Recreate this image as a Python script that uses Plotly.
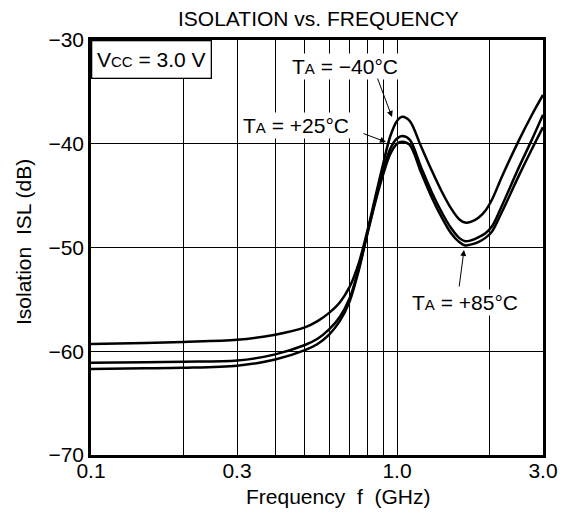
import plotly.graph_objects as go

# ---- data ----
freq_ghz = [0.1, 0.15, 0.2, 0.3, 0.4, 0.5, 0.55, 0.6, 0.65, 0.7, 0.75, 0.8, 0.85, 0.9, 0.95, 1.0, 1.04,
            1.1, 1.2, 1.3, 1.4, 1.5, 1.6, 1.67, 1.75, 1.85, 1.95, 2.05, 2.2, 2.5, 2.75, 3.0]
isl_m40 = [-59.3, -59.2, -59.1, -58.9, -58.4, -57.7, -57.1, -56.3, -55.3, -53.8, -51.5, -48.4, -45.1,
           -42.0, -39.3, -37.8, -37.4, -37.8, -40.3, -42.6, -44.6, -46.2, -47.3, -47.6, -47.5,
           -47.1, -46.4, -45.3, -43.2, -39.7, -37.3, -35.3]
isl_p25 = [-61.1, -61.05, -61.0, -60.9, -60.3, -59.4, -58.8, -57.9, -56.7, -54.9, -52.0, -48.6, -45.4,
           -42.6, -40.5, -39.5, -39.25, -39.6, -42.3, -44.7, -46.6, -48.1, -49.1, -49.4, -49.3,
           -49.0, -48.6, -47.9, -46.0, -42.3, -39.7, -37.2]
isl_p85 = [-61.7, -61.65, -61.6, -61.4, -60.8, -59.9, -59.3, -58.4, -57.1, -55.2, -52.2, -48.7, -45.6,
           -43.0, -41.0, -40.0, -39.8, -40.1, -42.8, -45.2, -47.1, -48.6, -49.5, -49.8, -49.7,
           -49.45, -49.05, -48.4, -46.6, -43.1, -40.6, -38.4]

x_tickvals = [0.1, 0.3, 1.0, 3.0]
x_ticktext = ["0.1", "0.3", "1.0", "3.0"]
x_minor_grid = [0.2, 0.4, 0.5, 0.6, 0.7, 0.8, 0.9, 2.0]
y_tickvals = [-70, -60, -50, -40, -30]
y_ticktext = ["\u221270", "\u221260", "\u221250", "\u221240", "\u221230"]

# ---- layout geometry ----
W, H = 564, 516
L, R, T, B = 91, 543, 40, 455
FONT = "Liberation Sans, Arial, Helvetica, sans-serif"
FS = 21


def px(xp):
    return (xp - L) / (R - L)


def py(yp):
    return (B - yp) / (B - T)


fig = go.Figure()
for ys in (isl_m40, isl_p25, isl_p85):
    fig.add_trace(go.Scatter(x=freq_ghz, y=ys, mode="lines",
                             line=dict(color="black", width=2.5, shape="spline", smoothing=0.9),
                             showlegend=False, hoverinfo="skip"))

fig.update_layout(
    width=W, height=H,
    margin=dict(l=L, r=W - R, t=T, b=H - B),
    paper_bgcolor="white", plot_bgcolor="white",
    font=dict(family=FONT, size=FS, color="black"),
    showlegend=False,
)
fig.update_xaxes(
    type="log", range=[-1, 0.47712125472], tickmode="array",
    tickvals=x_tickvals, ticktext=x_ticktext,
    showgrid=True, gridcolor="black", gridwidth=1,
    minor=dict(tickmode="array", tickvals=x_minor_grid, showgrid=True,
               gridcolor="black", gridwidth=1, ticks=""),
    showline=True, linecolor="black", linewidth=2.5, mirror=True,
    ticks="", zeroline=False, tickfont=dict(size=FS), automargin=False,
    ticklabelstandoff=-5,
)
fig.update_yaxes(
    range=[-70, -30], tickmode="array", tickvals=y_tickvals, ticktext=y_ticktext,
    showgrid=True, gridcolor="black", gridwidth=1,
    showline=True, linecolor="black", linewidth=2.5, mirror=True,
    ticks="", zeroline=False, tickfont=dict(size=FS), automargin=False,
)

ann = []
# title
ann.append(dict(text="ISOLATION vs. FREQUENCY", x=px(318), y=py(19), xref="paper", yref="paper",
                showarrow=False, xanchor="center", yanchor="middle", font=dict(size=FS)))
# axis titles
ann.append(dict(text="Frequency  f  (GHz)", x=px(338), y=py(496), xref="paper", yref="paper",
                showarrow=False, xanchor="center", yanchor="middle", font=dict(size=FS)))
ann.append(dict(text="Isolation  ISL (dB)", x=px(23), y=py(242), xref="paper", yref="paper",
                showarrow=False, xanchor="center", yanchor="middle", textangle=-90,
                font=dict(size=FS)))
# Vcc box
ann.append(dict(text="V<span style='font-size:15px'>CC</span> = 3.0 V", x=0, y=1,
                xref="paper", yref="paper", showarrow=False, xanchor="left", yanchor="top",
                width=116, height=34, align="center", bgcolor="white",
                bordercolor="black", borderwidth=1.3, borderpad=1, font=dict(size=FS)))
# temperature labels
for txt, cx, cy in (("\u221240\u00b0C", 345, 66), ("+25\u00b0C", 296, 125), ("+85\u00b0C", 465, 302)):
    ann.append(dict(text="T<span style='font-size:15px'>A</span> = " + txt, x=px(cx), y=py(cy),
                    xref="paper", yref="paper", showarrow=False, xanchor="center",
                    yanchor="middle", bgcolor="white", borderpad=1, font=dict(size=FS)))
# arrows (head, tail)
for hx, hy, tx, ty in ((392, 117, 377, 77), (386, 142, 362, 133), (464, 250, 459, 288)):
    ann.append(dict(text="", x=px(hx), y=py(hy), xref="paper", yref="paper",
                    ax=tx - hx, ay=ty - hy, axref="pixel", ayref="pixel",
                    showarrow=True, arrowhead=2, arrowsize=1.2, arrowwidth=1, arrowcolor="black"))
fig.update_layout(annotations=ann)

fig.write_html("out.html", config={"displayModeBar": False},
               post_script="document.body.style.margin='0px';document.body.style.overflow='hidden';")
